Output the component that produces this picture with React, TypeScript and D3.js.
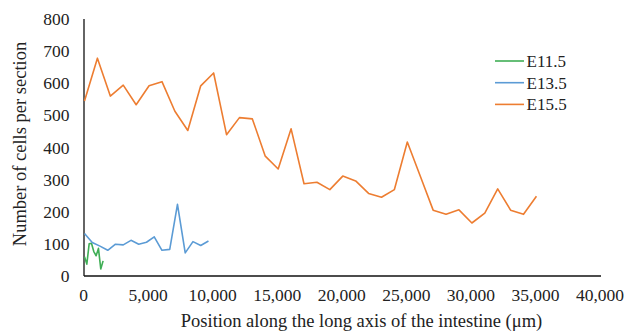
import React, { useEffect, useRef } from 'react';
import * as d3 from 'd3';

// positions along the intestine (µm) and cell counts per section
const e115X = [0, 180, 360, 540, 720, 900, 1080, 1260, 1440];
const e115Y = [60, 37, 100, 102, 76, 63, 86, 22, 47];

const e135X = [0, 600, 1200, 1800, 2400, 3000, 3600, 4200, 4800, 5400, 6000, 6600, 7200, 7800, 8400, 9000, 9600];
const e135Y = [132, 104, 93, 80, 99, 97, 111, 99, 105, 122, 80, 83, 223, 72, 107, 95, 109];

const e155X = [
  0, 1000, 2000, 3000, 4000, 5000, 6000, 7000, 8000, 9000, 10000, 11000,
  12000, 13000, 14000, 15000, 16000, 17000, 18000, 19000, 20000, 21000, 22000, 23000,
  24000, 25000, 26000, 27000, 28000, 29000, 30000, 31000, 32000, 33000, 34000, 35000
];
const e155Y = [
  545, 678, 560, 594, 533, 592, 605, 513, 453, 592, 632, 440,
  493, 489, 373, 333, 458, 287, 292, 269, 311, 296, 257, 245,
  269, 417, 311, 205, 192, 206, 165, 196, 271, 205, 192, 248
];

const seriesNames = ['E11.5', 'E13.5', 'E15.5'];
const seriesColors = ['#3fae55', '#5b9bd5', '#ed7d31'];
const xTicks = [0, 5000, 10000, 15000, 20000, 25000, 30000, 35000, 40000];
const yTicks = [0, 100, 200, 300, 400, 500, 600, 700, 800];

const App = () => {
  const svgRef = useRef<SVGSVGElement>(null);
  const width = 633;
  const height = 334;
  const font = '"Liberation Serif", "Times New Roman", serif';

  useEffect(() => {
    const svg = d3.select(svgRef.current);
    svg.selectAll('*').remove();

    const xScale = d3.scaleLinear().domain([0, 40000]).range([84.5, 601]);
    const yScale = d3.scaleLinear().domain([0, 800]).range([276, 19]);

    const series = [
      e115X.map((x, i) => ({ x, y: e115Y[i] })),
      e135X.map((x, i) => ({ x, y: e135Y[i] })),
      e155X.map((x, i) => ({ x, y: e155Y[i] }))
    ];

    const line = d3.line<{ x: number; y: number }>()
      .x(d => xScale(d.x))
      .y(d => yScale(d.y));

    // axes lines
    svg.append('line')
      .attr('x1', 84).attr('x2', 84)
      .attr('y1', 19).attr('y2', 276)
      .attr('stroke', '#111').attr('stroke-width', 1.3);
    svg.append('line')
      .attr('x1', 84).attr('x2', 601)
      .attr('y1', 276).attr('y2', 276)
      .attr('stroke', '#111').attr('stroke-width', 1.3);

    // tick labels
    svg.append('g')
      .selectAll('text')
      .data(xTicks)
      .enter()
      .append('text')
      .attr('x', d => xScale(d) - 1)
      .attr('y', 301)
      .attr('text-anchor', 'middle')
      .style('font-family', font)
      .style('font-size', '17.5px')
      .style('fill', '#222')
      .text(d => d3.format(',')(d));

    svg.append('g')
      .selectAll('text')
      .data(yTicks)
      .enter()
      .append('text')
      .attr('x', 69.5)
      .attr('y', d => yScale(d) + 6)
      .attr('text-anchor', 'end')
      .style('font-family', font)
      .style('font-size', '17.5px')
      .style('fill', '#222')
      .text(d => d);

    // series lines
    svg.append('g')
      .selectAll('path')
      .data(series)
      .enter()
      .append('path')
      .attr('d', d => line(d))
      .attr('fill', 'none')
      .attr('stroke', (d, i) => seriesColors[i])
      .attr('stroke-width', 1.6)
      .attr('stroke-linejoin', 'round');

    // legend
    const legend = svg.append('g');
    seriesNames.forEach((name, i) => {
      const y = 61 + i * 21.7;
      legend.append('line')
        .attr('x1', 495).attr('x2', 524)
        .attr('y1', y).attr('y2', y)
        .attr('stroke', seriesColors[i])
        .attr('stroke-width', 1.6);
      legend.append('text')
        .attr('x', 526.5)
        .attr('y', y + 6)
        .style('font-family', font)
        .style('font-size', '17px')
        .style('fill', '#222')
        .text(name);
    });

    // axis titles
    svg.append('text')
      .attr('x', 361.5)
      .attr('y', 327)
      .attr('text-anchor', 'middle')
      .style('font-family', font)
      .style('font-size', '18.5px')
      .style('fill', '#222')
      .text('Position along the long axis of the intestine (μm)');

    svg.append('text')
      .attr('transform', 'translate(25.5, 144) rotate(-90)')
      .attr('text-anchor', 'middle')
      .style('font-family', font)
      .style('font-size', '18.5px')
      .style('fill', '#222')
      .text('Number of cells per section');
  }, []);

  return (
    <div style={{ position: 'absolute', left: 0, top: 0 }}>
      <svg ref={svgRef} width={width} height={height} style={{ display: 'block', background: '#fff' }}></svg>
    </div>
  );
};

export default App;
